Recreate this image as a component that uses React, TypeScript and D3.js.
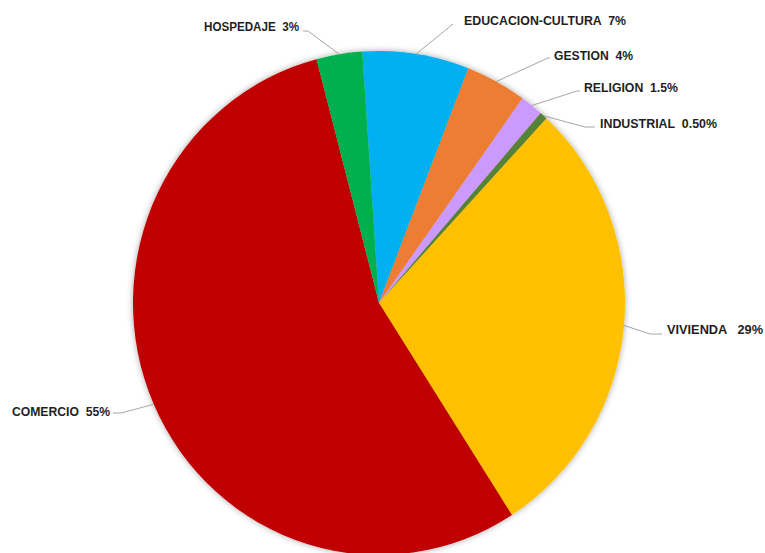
import React from "react";
import * as d3 from "d3";

const categories = ["EDUCACION-CULTURA", "GESTION", "RELIGION", "INDUSTRIAL", "VIVIENDA", "COMERCIO", "HOSPEDAJE"];
const values = [7, 4, 1.5, 0.5, 29, 55, 3];
const valueLabels = ["7%", "4%", "1.5%", "0.50%", "29%", "55%", "3%"];
const separators = ["  ", "  ", "  ", "  ", "   ", "  ", "  "];
const colors = ["#00B0F0", "#ED7D31", "#CC99FF", "#548235", "#FFC000", "#C00000", "#00B050"];

// label layout: elbow point of leader line, text start, baseline, text width
const labelLayout = [
  { ex: 453, ey: 24, hx: 453, tx: 464, ty: 25, w: 162 },
  { ex: 548, ey: 58, hx: 550, tx: 554, ty: 60, w: 79 },
  { ex: 577, ey: 91, hx: 580, tx: 584, ty: 92, w: 94 },
  { ex: 585, ey: 127, hx: 595, tx: 600, ty: 128, w: 117 },
  { ex: 650, ey: 334, hx: 662, tx: 667, ty: 334, w: 96 },
  { ex: 121, ey: 413, hx: 113, tx: 12, ty: 416, w: 98 },
  { ex: 308, ey: 31, hx: 303, tx: 204, ty: 30.5, w: 95 },
];

const W = 765;
const H = 553;
const cx = 379;
const cy = 303;
const rx = 246;
const ry = 252;
const startAngle = (-3.9 * Math.PI) / 180;

export default function App() {
  const pie = d3
    .pie<number>()
    .sort(null)
    .value((d) => d)
    .startAngle(startAngle)
    .endAngle(startAngle + 2 * Math.PI);
  const arcs = pie(values);
  const arc = d3.arc<d3.PieArcDatum<number>>().innerRadius(0).outerRadius(rx);
  const sy = ry / rx;

  return (
    <svg
      width={W}
      height={H}
      style={{ position: "absolute", left: 0, top: 0, background: "#fff" }}
      fontFamily="'Liberation Sans', Arial, sans-serif"
    >
      <defs>
        <filter id="shadow" x="-10%" y="-10%" width="120%" height="120%">
          <feDropShadow dx="0" dy="0" stdDeviation="3" floodColor="#000" floodOpacity="0.35" />
        </filter>
      </defs>
      <g transform={`translate(${cx},${cy}) scale(1,${sy})`} filter="url(#shadow)">
        {arcs.map((a, i) => (
          <path key={i} d={arc(a) || ""} fill={colors[i]} />
        ))}
      </g>
      {arcs.map((a, i) => {
        const mid = (a.startAngle + a.endAngle) / 2;
        const px = cx + rx * Math.sin(mid);
        const py = cy - ry * Math.cos(mid);
        const L = labelLayout[i];
        return (
          <g key={i}>
            <polyline
              points={`${px},${py} ${L.ex},${L.ey} ${L.hx},${L.ey}`}
              fill="none"
              stroke="#A6A6A6"
              strokeWidth={1}
            />
            <text
              x={L.tx}
              y={L.ty}
              fontSize={13.5}
              fontWeight="bold"
              fill="#1f1f1f"
              textLength={L.w}
              lengthAdjust="spacingAndGlyphs"
              style={{ whiteSpace: "pre" }}
            >
              {categories[i] + separators[i] + valueLabels[i]}
            </text>
          </g>
        );
      })}
    </svg>
  );
}
